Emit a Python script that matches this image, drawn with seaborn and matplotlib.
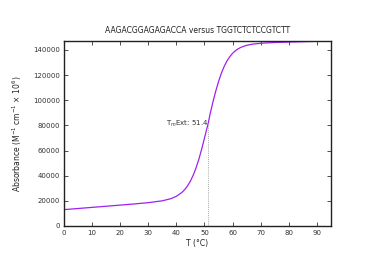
import matplotlib
matplotlib.use("Agg")
import matplotlib.pyplot as plt
import seaborn as sns
import pandas as pd

title = "AAGACGGAGAGACCA versus TGGTCTCTCCGTCTT"
temps = [0, 5, 10, 15, 20, 25, 30, 35, 38, 40, 42, 43, 44, 45, 46, 47, 48, 49, 50, 51.4,
         52, 53, 54, 55, 56, 57, 58, 59, 60, 61, 62, 63, 65, 67, 70, 75, 80, 85, 90, 95]
absorb = [13000, 13900, 14800, 15700, 16600, 17530, 18550, 20030, 21700, 23610, 26770,
          29080, 32010, 35770, 40470, 46260, 53180, 61160, 70020, 82500, 89240, 98570,
          107240, 114930, 121480, 126910, 131270, 134720, 137370, 139420, 140970, 142140,
          143700, 144600, 145340, 145950, 146300, 146600, 146900, 147200]
tm = 51.4
tm_value = 81500
xticks = [0, 10, 20, 30, 40, 50, 60, 70, 80, 90]
yticks = [0, 20000, 40000, 60000, 80000, 100000, 120000, 140000]

sns.set_theme(style="ticks")
plt.rcParams['font.family'] = ['DejaVu Sans']

df = pd.DataFrame({"T": temps, "A": absorb})
fig = plt.figure(figsize=(3.74, 2.64), dpi=100)
ax = fig.add_axes([0.171, 0.144, 0.714, 0.701])
sns.lineplot(data=df, x="T", y="A", ax=ax, color="#a020f0", linewidth=0.9)

ax.plot([tm, tm], [0, tm_value], linestyle=(0, (1, 1.5)), color="#888888", linewidth=0.6)
ax.text(tm, tm_value, "T$_m$Ext: 51.4", ha="right", va="center", fontsize=5, color="#333333")

ax.set_xlim(0, 95)
ax.set_ylim(0, max(absorb))
ax.set_xticks(xticks)
ax.set_yticks(yticks)
ax.tick_params(direction="in", top=True, right=True, labelsize=5, length=3, width=0.6,
               pad=3, colors="#333333")
for s in ax.spines.values():
    s.set_linewidth(1.0)
    s.set_color("#222222")
    s.set_visible(True)
ax.set_xlabel("T (°C)", fontsize=5.5, labelpad=2, color="#222222")
ax.set_ylabel("Absorbance (M$^{-1}$ cm$^{-1}$ × 10$^{6}$)", fontsize=5.5, labelpad=6, color="#222222")
ax.set_title(title, fontsize=5.5, pad=6, color="#222222")
fig.savefig("out.png", dpi=100)
